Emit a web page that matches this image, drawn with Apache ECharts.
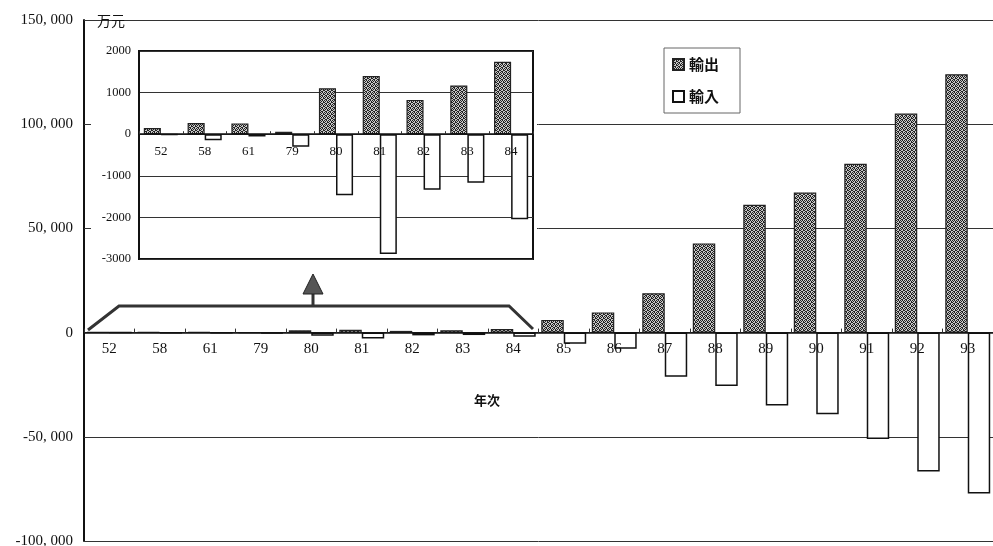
<!DOCTYPE html>
<html>
<head>
<meta charset="utf-8">
<script src="https://cdn.jsdelivr.net/npm/echarts@6/dist/echarts.min.js"></script>
<style>
html,body{margin:0;padding:0;background:#fff;}
#chart{width:993px;height:546px;}
</style>
</head>
<body>
<div id="chart"></div>
<script>
// ---- data (万元) ----
var years = ['52','58','61','79','80','81','82','83','84','85','86','87','88','89','90','91','92','93'];
var exportsVals = [150,270,260,60,1105,1400,825,1170,1740,6100,9700,18900,42800,61300,67200,81000,105100,124000];
var importsVals = [-10,-145,-55,-300,-1470,-2880,-1335,-1170,-2045,-5400,-7800,-21200,-25600,-35000,-39200,-51000,-66700,-77200];
var insetCount = 9;
var seriesNames = ['輸出','輸入'];
var unitLabel = '万元';
var xAxisTitle = '年次';

var insetYears = years.slice(0, insetCount);
var insetExports = exportsVals.slice(0, insetCount);
var insetImports = importsVals.slice(0, insetCount);

// ---- layout ----
var M = {left: 84, top: 20, height: 521, min: -100000, max: 150000, interval: 50000};
var I = {left: 139, top: 51, width: 394, height: 208, min: -3000, max: 2000, interval: 1000};
// shift category axes up to the zero line
function zeroOffset(g){ return -g.height * (0 - g.min) / (g.max - g.min); }

// stipple pattern for export bars
function makePattern(){
  var c = document.createElement('canvas');
  c.width = 4; c.height = 4;
  var ctx = c.getContext('2d');
  ctx.fillStyle = '#c8c8c8';
  ctx.fillRect(0,0,4,4);
  ctx.fillStyle = '#222';
  var pts = [[0,0],[2,0],[1,1],[3,2],[0,2],[2,3],[1,3],[3,1]];
  pts.forEach(function(p){ ctx.fillRect(p[0],p[1],1,1); });
  return c;
}
var pat = {image: makePattern(), repeat: 'repeat'};

function fmtThousands(v){
  var neg = v < 0; var a = Math.abs(v);
  var s = String(a);
  if (a >= 1000) { s = Math.floor(a/1000) + ', ' + String(a%1000).padStart(3,'0'); }
  return (neg ? '-' : '') + s;
}

var serif = '"Liberation Serif","DejaVu Serif",serif';
var cjk = '"Noto Sans CJK JP","Noto Sans CJK SC",sans-serif';

var chart = echarts.init(document.getElementById('chart'));
var option = {
  animation: false,
  backgroundColor: '#fff',
  legend: {
    data: seriesNames,
    orient: 'vertical',
    left: 664, top: 48,
    icon: 'rect',
    itemWidth: 11, itemHeight: 11,
    itemGap: 17,
    padding: [9, 21, 9, 8],
    borderColor: '#666', borderWidth: 1,
    textStyle: {fontFamily: cjk, fontSize: 15, color: '#111', fontWeight: 'bold'},
    z: 6
  },
  grid: [
    {left: M.left, right: 0, top: M.top, height: M.height, containLabel: false, outerBoundsMode: 'none'},
    {left: I.left, top: I.top, width: I.width, height: I.height, show: true, borderColor: '#111', borderWidth: 2,
     backgroundColor: 'transparent', z: 3, containLabel: false, outerBoundsMode: 'none'}
  ],
  xAxis: [
    {
      type: 'category', gridIndex: 0, data: years, position: 'bottom', offset: zeroOffset(M),
      axisLine: {onZero: false, lineStyle: {color: '#111', width: 1.5}},
      axisTick: {show: true, inside: true, length: 4, lineStyle: {color: '#333'}},
      axisLabel: {fontFamily: serif, fontSize: 15, color: '#111', margin: 9, interval: 0},
      splitLine: {show: false},
      z: 5
    },
    {
      type: 'category', gridIndex: 1, data: insetYears, position: 'bottom', offset: zeroOffset(I),
      axisLine: {onZero: false, lineStyle: {color: '#111', width: 1.5}},
      axisTick: {show: true, inside: true, length: 3, lineStyle: {color: '#333'}},
      axisLabel: {fontFamily: serif, fontSize: 13, color: '#111', margin: 11, interval: 0},
      splitLine: {show: false},
      z: 5
    }
  ],
  yAxis: [
    {
      type: 'value', gridIndex: 0, min: M.min, max: M.max, interval: M.interval,
      axisLine: {show: true, onZero: false, lineStyle: {color: '#111', width: 2}},
      axisTick: {show: true, inside: true, length: 5, lineStyle: {color: '#333'}},
      axisLabel: {fontFamily: serif, fontSize: 15, color: '#111', margin: 11, formatter: fmtThousands},
      splitLine: {show: true, lineStyle: {color: '#333', width: 1}}
    },
    {
      type: 'value', gridIndex: 1, min: I.min, max: I.max, interval: I.interval,
      axisLine: {show: true, onZero: false, lineStyle: {color: '#111', width: 2}},
      axisTick: {show: false},
      axisLabel: {fontFamily: serif, fontSize: 12.5, color: '#111', margin: 8, formatter: function(v){ return String(v); }},
      splitLine: {show: true, lineStyle: {color: '#333', width: 1}},
      z: 3
    }
  ],
  series: [
    {
      name: seriesNames[0], type: 'bar', xAxisIndex: 0, yAxisIndex: 0, data: exportsVals,
      barGap: '0%', barCategoryGap: '11%',
      itemStyle: {color: pat, borderColor: '#222', borderWidth: 1.2}
    },
    {
      name: seriesNames[1], type: 'bar', xAxisIndex: 0, yAxisIndex: 0, data: importsVals,
      barGap: '0%', barCategoryGap: '11%',
      itemStyle: {color: '#fff', borderColor: '#111', borderWidth: 1.5}
    },
    {
      name: seriesNames[0], type: 'bar', xAxisIndex: 1, yAxisIndex: 1, data: insetExports,
      barGap: '0%', barCategoryGap: '22%', z: 4,
      itemStyle: {color: pat, borderColor: '#222', borderWidth: 1.2}
    },
    {
      name: seriesNames[1], type: 'bar', xAxisIndex: 1, yAxisIndex: 1, data: insetImports,
      barGap: '0%', barCategoryGap: '22%', z: 4,
      itemStyle: {color: '#fff', borderColor: '#111', borderWidth: 1.5}
    }
  ],
  graphic: [
    {type: 'rect', z: 1, shape: {x: 91, y: 21, width: 446, height: 241}, style: {fill: '#fff'}, silent: true},
    {type: 'text', z: 5, left: 97, top: 14, style: {text: unitLabel, font: '14px ' + cjk, fill: '#111'}},
    {type: 'text', z: 5, left: 474, top: 394, style: {text: xAxisTitle, font: 'bold 13px ' + cjk, fill: '#111'}},
    {type: 'polyline', z: 5, shape: {points: [[88,330],[119,306],[509,306],[533,329]]}, style: {stroke: '#333', lineWidth: 3, fill: null}},
    {type: 'line', z: 5, shape: {x1: 313, y1: 306, x2: 313, y2: 292}, style: {stroke: '#333', lineWidth: 3}},
    {type: 'polygon', z: 5, shape: {points: [[303,294],[323,294],[313,274]]}, style: {fill: '#555', stroke: '#222', lineWidth: 1}}
  ]
};
chart.setOption(option);
</script>
</body>
</html>
